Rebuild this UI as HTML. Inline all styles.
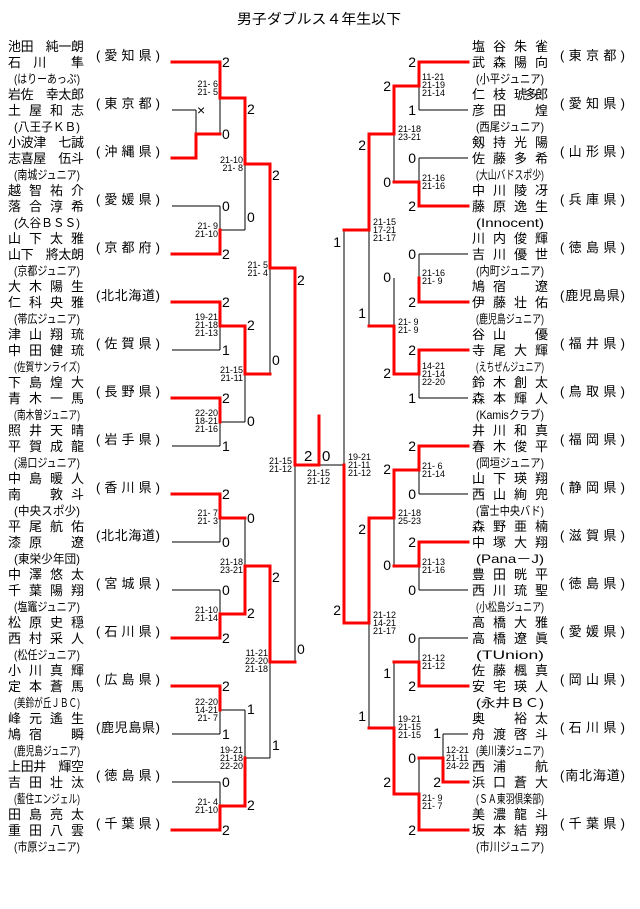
<!DOCTYPE html>
<html><head><meta charset="utf-8"><style>
html,body{margin:0;padding:0;background:#fff;}
svg{display:block;font-family:"Liberation Sans","Noto Sans CJK JP",sans-serif;}
.n{font-size:13px;fill:#000;}
.a{font-size:12px;fill:#000;}
.p{font-size:13px;fill:#000;}
.d{font-size:14px;fill:#000;}
.s{font-size:9px;fill:#000;}
.k{stroke:#000;stroke-width:1;fill:none;}
.r{stroke:#f00;stroke-width:3;fill:none;stroke-linecap:square;}
</style></head><body>
<svg width="640" height="909" viewBox="0 0 640 909" xmlns="http://www.w3.org/2000/svg">
<text x="237" y="24" font-size="14" textLength="164" lengthAdjust="spacingAndGlyphs">男子ダブルス４年生以下</text>

<!-- LEFT TEAMS -->
<g transform="translate(0,0)"><text class="n" x="8" y="51" textLength="76" lengthAdjust="spacing">池田　純一朗</text><text class="n" x="8" y="67" textLength="76" lengthAdjust="spacing">石　川　　隼</text><text class="a" x="14" y="83" textLength="66" lengthAdjust="spacingAndGlyphs">(はりーあっぷ)</text><text class="p" x="96" y="60" textLength="64" lengthAdjust="spacing">( 愛 知 県 )</text></g>
<g transform="translate(0,48)"><text class="n" x="8" y="51" textLength="76" lengthAdjust="spacing">岩佐　幸太郎</text><text class="n" x="8" y="67" textLength="76" lengthAdjust="spacing">土　屋　和　志</text><text class="a" x="14" y="83" textLength="66" lengthAdjust="spacingAndGlyphs">(八王子ＫＢ)</text><text class="p" x="96" y="60" textLength="64" lengthAdjust="spacing">( 東 京 都 )</text></g>
<g transform="translate(0,96)"><text class="n" x="8" y="51" textLength="76" lengthAdjust="spacing">小波津　七誠</text><text class="n" x="8" y="67" textLength="76" lengthAdjust="spacing">志喜屋　伍斗</text><text class="a" x="14" y="83" textLength="66" lengthAdjust="spacingAndGlyphs">(南城ジュニア)</text><text class="p" x="96" y="60" textLength="64" lengthAdjust="spacing">( 沖 縄 県 )</text></g>
<g transform="translate(0,144)"><text class="n" x="8" y="51" textLength="76" lengthAdjust="spacing">越　智　祐　介</text><text class="n" x="8" y="67" textLength="76" lengthAdjust="spacing">落　合　淳　希</text><text class="a" x="14" y="83" textLength="66" lengthAdjust="spacingAndGlyphs">(久谷ＢＳＳ)</text><text class="p" x="96" y="60" textLength="64" lengthAdjust="spacing">( 愛 媛 県 )</text></g>
<g transform="translate(0,192)"><text class="n" x="8" y="51" textLength="76" lengthAdjust="spacing">山　下　太　雅</text><text class="n" x="8" y="67" textLength="76" lengthAdjust="spacing">山下　將太朗</text><text class="a" x="14" y="83" textLength="66" lengthAdjust="spacingAndGlyphs">(京都ジュニア)</text><text class="p" x="96" y="60" textLength="64" lengthAdjust="spacing">( 京 都 府 )</text></g>
<g transform="translate(0,240)"><text class="n" x="8" y="51" textLength="76" lengthAdjust="spacing">大　木　陽　生</text><text class="n" x="8" y="67" textLength="76" lengthAdjust="spacing">仁　科　央　雅</text><text class="a" x="14" y="83" textLength="66" lengthAdjust="spacingAndGlyphs">(帯広ジュニア)</text><text class="p" x="96" y="60" textLength="64" lengthAdjust="spacing">(北北海道)</text></g>
<g transform="translate(0,288)"><text class="n" x="8" y="51" textLength="76" lengthAdjust="spacing">津　山　翔　琉</text><text class="n" x="8" y="67" textLength="76" lengthAdjust="spacing">中　田　健　琉</text><text class="a" x="14" y="83" textLength="66" lengthAdjust="spacingAndGlyphs">(佐賀サンライズ)</text><text class="p" x="96" y="60" textLength="64" lengthAdjust="spacing">( 佐 賀 県 )</text></g>
<g transform="translate(0,336)"><text class="n" x="8" y="51" textLength="76" lengthAdjust="spacing">下　島　煌　大</text><text class="n" x="8" y="67" textLength="76" lengthAdjust="spacing">青　木　一　馬</text><text class="a" x="14" y="83" textLength="66" lengthAdjust="spacingAndGlyphs">(南木曽ジュニア)</text><text class="p" x="96" y="60" textLength="64" lengthAdjust="spacing">( 長 野 県 )</text></g>
<g transform="translate(0,384)"><text class="n" x="8" y="51" textLength="76" lengthAdjust="spacing">照　井　天　晴</text><text class="n" x="8" y="67" textLength="76" lengthAdjust="spacing">平　賀　成　龍</text><text class="a" x="14" y="83" textLength="66" lengthAdjust="spacingAndGlyphs">(湯口ジュニア)</text><text class="p" x="96" y="60" textLength="64" lengthAdjust="spacing">( 岩 手 県 )</text></g>
<g transform="translate(0,432)"><text class="n" x="8" y="51" textLength="76" lengthAdjust="spacing">中　島　暖　人</text><text class="n" x="8" y="67" textLength="76" lengthAdjust="spacing">南　　　敦　斗</text><text class="a" x="14" y="83" textLength="66" lengthAdjust="spacingAndGlyphs">(中央スポ少)</text><text class="p" x="96" y="60" textLength="64" lengthAdjust="spacing">( 香 川 県 )</text></g>
<g transform="translate(0,480)"><text class="n" x="8" y="51" textLength="76" lengthAdjust="spacing">平　尾　航　佑</text><text class="n" x="8" y="67" textLength="76" lengthAdjust="spacing">漆　原　　　遼</text><text class="a" x="14" y="83" textLength="66" lengthAdjust="spacingAndGlyphs">(東栄少年団)</text><text class="p" x="96" y="60" textLength="64" lengthAdjust="spacing">(北北海道)</text></g>
<g transform="translate(0,528)"><text class="n" x="8" y="51" textLength="76" lengthAdjust="spacing">中　澤　悠　太</text><text class="n" x="8" y="67" textLength="76" lengthAdjust="spacing">千　葉　陽　翔</text><text class="a" x="14" y="83" textLength="66" lengthAdjust="spacingAndGlyphs">(塩竈ジュニア)</text><text class="p" x="96" y="60" textLength="64" lengthAdjust="spacing">( 宮 城 県 )</text></g>
<g transform="translate(0,576)"><text class="n" x="8" y="51" textLength="76" lengthAdjust="spacing">松　原　史　穏</text><text class="n" x="8" y="67" textLength="76" lengthAdjust="spacing">西　村　采　人</text><text class="a" x="14" y="83" textLength="66" lengthAdjust="spacingAndGlyphs">(松任ジュニア)</text><text class="p" x="96" y="60" textLength="64" lengthAdjust="spacing">( 石 川 県 )</text></g>
<g transform="translate(0,624)"><text class="n" x="8" y="51" textLength="76" lengthAdjust="spacing">小　川　真　輝</text><text class="n" x="8" y="67" textLength="76" lengthAdjust="spacing">定　本　蒼　馬</text><text class="a" x="14" y="83" textLength="66" lengthAdjust="spacingAndGlyphs">(美鈴が丘ＪＢＣ)</text><text class="p" x="96" y="60" textLength="64" lengthAdjust="spacing">( 広 島 県 )</text></g>
<g transform="translate(0,672)"><text class="n" x="8" y="51" textLength="76" lengthAdjust="spacing">峰　元　遙　生</text><text class="n" x="8" y="67" textLength="76" lengthAdjust="spacing">鳩　宿　　　瞬</text><text class="a" x="14" y="83" textLength="66" lengthAdjust="spacingAndGlyphs">(鹿児島ジュニア)</text><text class="p" x="96" y="60" textLength="64" lengthAdjust="spacing">(鹿児島県)</text></g>
<g transform="translate(0,720)"><text class="n" x="8" y="51" textLength="76" lengthAdjust="spacing">上田井　輝空</text><text class="n" x="8" y="67" textLength="76" lengthAdjust="spacing">吉　田　壮　汰</text><text class="a" x="14" y="83" textLength="66" lengthAdjust="spacingAndGlyphs">(藍住エンジェル)</text><text class="p" x="96" y="60" textLength="64" lengthAdjust="spacing">( 徳 島 県 )</text></g>
<g transform="translate(0,768)"><text class="n" x="8" y="51" textLength="76" lengthAdjust="spacing">田　島　亮　太</text><text class="n" x="8" y="67" textLength="76" lengthAdjust="spacing">重　田　八　雲</text><text class="a" x="14" y="83" textLength="66" lengthAdjust="spacingAndGlyphs">(市原ジュニア)</text><text class="p" x="96" y="60" textLength="64" lengthAdjust="spacing">( 千 葉 県 )</text></g>

<!-- RIGHT TEAMS -->
<g transform="translate(0,0)"><text class="n" x="472" y="51" textLength="76" lengthAdjust="spacing">塩　谷　朱　雀</text><text class="n" x="472" y="67" textLength="76" lengthAdjust="spacing">武　森　陽　向</text><text class="a" x="476" y="83" textLength="68" lengthAdjust="spacingAndGlyphs">(小平ジュニア)</text><text class="p" x="560" y="60" textLength="65" lengthAdjust="spacing">( 東 京 都 )</text></g>
<g transform="translate(0,48)"><text class="n" x="472" y="51" textLength="76" lengthAdjust="spacing">仁　枝　琥多郎</text><text class="n" x="472" y="67" textLength="76" lengthAdjust="spacing">彦　田　　　煌</text><text class="a" x="476" y="83" textLength="68" lengthAdjust="spacingAndGlyphs">(西尾ジュニア)</text><text class="p" x="560" y="60" textLength="65" lengthAdjust="spacing">( 愛 知 県 )</text></g>
<g transform="translate(0,96)"><text class="n" x="472" y="51" textLength="76" lengthAdjust="spacing">剱　持　光　陽</text><text class="n" x="472" y="67" textLength="76" lengthAdjust="spacing">佐　藤　多　希</text><text class="a" x="476" y="83" textLength="68" lengthAdjust="spacingAndGlyphs">(大山バドスポ少)</text><text class="p" x="560" y="60" textLength="65" lengthAdjust="spacing">( 山 形 県 )</text></g>
<g transform="translate(0,144)"><text class="n" x="472" y="51" textLength="76" lengthAdjust="spacing">中　川　陵　冴</text><text class="n" x="472" y="67" textLength="76" lengthAdjust="spacing">藤　原　逸　生</text><text class="a" x="476" y="83" textLength="68" lengthAdjust="spacingAndGlyphs">(Innocent)</text><text class="p" x="560" y="60" textLength="65" lengthAdjust="spacing">( 兵 庫 県 )</text></g>
<g transform="translate(0,192)"><text class="n" x="472" y="51" textLength="76" lengthAdjust="spacing">川　内　俊　輝</text><text class="n" x="472" y="67" textLength="76" lengthAdjust="spacing">吉　川　優　世</text><text class="a" x="476" y="83" textLength="68" lengthAdjust="spacingAndGlyphs">(内町ジュニア)</text><text class="p" x="560" y="60" textLength="65" lengthAdjust="spacing">( 徳 島 県 )</text></g>
<g transform="translate(0,240)"><text class="n" x="472" y="51" textLength="76" lengthAdjust="spacing">鳩　宿　　　遼</text><text class="n" x="472" y="67" textLength="76" lengthAdjust="spacing">伊　藤　壮　佑</text><text class="a" x="476" y="83" textLength="68" lengthAdjust="spacingAndGlyphs">(鹿児島ジュニア)</text><text class="p" x="560" y="60" textLength="65" lengthAdjust="spacing">(鹿児島県)</text></g>
<g transform="translate(0,288)"><text class="n" x="472" y="51" textLength="76" lengthAdjust="spacing">谷　山　　　優</text><text class="n" x="472" y="67" textLength="76" lengthAdjust="spacing">寺　尾　大　輝</text><text class="a" x="476" y="83" textLength="68" lengthAdjust="spacingAndGlyphs">(えちぜんジュニア)</text><text class="p" x="560" y="60" textLength="65" lengthAdjust="spacing">( 福 井 県 )</text></g>
<g transform="translate(0,336)"><text class="n" x="472" y="51" textLength="76" lengthAdjust="spacing">鈴　木　創　太</text><text class="n" x="472" y="67" textLength="76" lengthAdjust="spacing">森　本　輝　人</text><text class="a" x="476" y="83" textLength="68" lengthAdjust="spacingAndGlyphs">(Kamisクラブ)</text><text class="p" x="560" y="60" textLength="65" lengthAdjust="spacing">( 鳥 取 県 )</text></g>
<g transform="translate(0,384)"><text class="n" x="472" y="51" textLength="76" lengthAdjust="spacing">井　川　和　真</text><text class="n" x="472" y="67" textLength="76" lengthAdjust="spacing">春　木　俊　平</text><text class="a" x="476" y="83" textLength="68" lengthAdjust="spacingAndGlyphs">(岡垣ジュニア)</text><text class="p" x="560" y="60" textLength="65" lengthAdjust="spacing">( 福 岡 県 )</text></g>
<g transform="translate(0,432)"><text class="n" x="472" y="51" textLength="76" lengthAdjust="spacing">山　下　瑛　翔</text><text class="n" x="472" y="67" textLength="76" lengthAdjust="spacing">西　山　絢　兜</text><text class="a" x="476" y="83" textLength="68" lengthAdjust="spacingAndGlyphs">(富士中央バド)</text><text class="p" x="560" y="60" textLength="65" lengthAdjust="spacing">( 静 岡 県 )</text></g>
<g transform="translate(0,480)"><text class="n" x="472" y="51" textLength="76" lengthAdjust="spacing">森　野　亜　楠</text><text class="n" x="472" y="67" textLength="76" lengthAdjust="spacing">中　塚　大　翔</text><text class="a" x="476" y="83" textLength="68" lengthAdjust="spacingAndGlyphs">(Pana－J)</text><text class="p" x="560" y="60" textLength="65" lengthAdjust="spacing">( 滋 賀 県 )</text></g>
<g transform="translate(0,528)"><text class="n" x="472" y="51" textLength="76" lengthAdjust="spacing">豊　田　晄　平</text><text class="n" x="472" y="67" textLength="76" lengthAdjust="spacing">西　川　琉　聖</text><text class="a" x="476" y="83" textLength="68" lengthAdjust="spacingAndGlyphs">(小松島ジュニア)</text><text class="p" x="560" y="60" textLength="65" lengthAdjust="spacing">( 徳 島 県 )</text></g>
<g transform="translate(0,576)"><text class="n" x="472" y="51" textLength="76" lengthAdjust="spacing">高　橋　大　雅</text><text class="n" x="472" y="67" textLength="76" lengthAdjust="spacing">高　橋　遼　眞</text><text class="a" x="476" y="83" textLength="68" lengthAdjust="spacingAndGlyphs">(TUnion)</text><text class="p" x="560" y="60" textLength="65" lengthAdjust="spacing">( 愛 媛 県 )</text></g>
<g transform="translate(0,624)"><text class="n" x="472" y="51" textLength="76" lengthAdjust="spacing">佐　藤　楓　真</text><text class="n" x="472" y="67" textLength="76" lengthAdjust="spacing">安　宅　瑛　人</text><text class="a" x="476" y="83" textLength="68" lengthAdjust="spacingAndGlyphs">(永井ＢＣ)</text><text class="p" x="560" y="60" textLength="65" lengthAdjust="spacing">( 岡 山 県 )</text></g>
<g transform="translate(0,672)"><text class="n" x="472" y="51" textLength="76" lengthAdjust="spacing">奥　　　裕　太</text><text class="n" x="472" y="67" textLength="76" lengthAdjust="spacing">舟　渡　啓　斗</text><text class="a" x="476" y="83" textLength="68" lengthAdjust="spacingAndGlyphs">(美川湊ジュニア)</text><text class="p" x="560" y="60" textLength="65" lengthAdjust="spacing">( 石 川 県 )</text></g>
<g transform="translate(0,720)"><text class="n" x="472" y="51" textLength="76" lengthAdjust="spacing">西　浦　　　航</text><text class="n" x="472" y="67" textLength="76" lengthAdjust="spacing">浜　口　蒼　大</text><text class="a" x="476" y="83" textLength="68" lengthAdjust="spacingAndGlyphs">(ＳＡ東羽倶楽部)</text><text class="p" x="560" y="60" textLength="65" lengthAdjust="spacing">(南北海道)</text></g>
<g transform="translate(0,768)"><text class="n" x="472" y="51" textLength="76" lengthAdjust="spacing">美　濃　龍　斗</text><text class="n" x="472" y="67" textLength="76" lengthAdjust="spacing">坂　本　結　翔</text><text class="a" x="476" y="83" textLength="68" lengthAdjust="spacingAndGlyphs">(市川ジュニア)</text><text class="p" x="560" y="60" textLength="65" lengthAdjust="spacing">( 千 葉 県 )</text></g>

<!-- LEFT BLACK LINES -->
<path class="k" d="M172 62H220M172 110H196M172 158H196M196 110V158M220 62V134
M172 206H220M172 254H220M220 206V254
M172 302H220M172 350H220M220 302V350
M172 398H220M172 446H220M220 398V446
M172 494H220M172 542H220M220 494V542
M172 590H220M172 638H220M220 590V638
M172 686H220M172 734H220M220 686V734
M172 782H220M172 830H220M220 782V830
M245 98V230M220 230H245M245 326V422M220 422H245M245 518V614M245 710V806M220 710H245
M270 164V374M245 374H270M270 566V758M245 758H270
M295 268V662M270 662H295M295 465H344"/>
<!-- RIGHT BLACK LINES -->
<path class="k" d="M468 62H419M468 110H419M419 62V110
M468 158H419M468 206H419M419 158V206
M468 254H419M468 302H419M419 254V302
M468 350H419M468 398H419M419 350V398
M468 446H419M468 494H419M419 446V494
M468 542H419M468 590H419M419 542V590
M468 638H419M468 686H419M419 638V686
M468 734H443M468 782H443M443 734V782
M468 830H419M419 758V830
M394 86V182M394 278V374M394 470V566M394 662V794
M369 134V326M394 326H369M369 518V728
M344 230V623"/>

<!-- RED LINES LEFT -->
<path class="r" d="M172 62H220V98H245V164H270V268H295V465H319V416
M172 158H196V134H220
M172 254H220V230
M172 302H220V326H245V374H270
M172 398H220V422
M172 494H220V518H245
M172 638H220V614H245V566H270V662H295
M172 686H220V710
M172 830H220V806H245V758"/>
<!-- RED LINES RIGHT -->
<path class="r" d="M468 62H419V86H394V134H369V230H344
M468 206H419V182H394
M468 302H419V278
M468 350H419V374H394V326H369
M468 446H419V470H394V518H369V623H344V465
M468 542H419V566H394
M468 686H419V662H394
M468 782H443V758H419
M468 830H419V794H394V728H369"/>

<!-- DIGITS LEFT -->
<g class="d">
<text x="222" y="67">2</text><text x="222" y="139">0</text><text x="197" y="115">×</text>
<text x="222" y="211">0</text><text x="222" y="259">2</text>
<text x="222" y="307">2</text><text x="222" y="355">1</text>
<text x="222" y="403">2</text><text x="222" y="451">1</text>
<text x="222" y="499">2</text><text x="222" y="547">0</text>
<text x="222" y="595">0</text><text x="222" y="643">2</text>
<text x="222" y="691">2</text><text x="222" y="739">1</text>
<text x="222" y="787">0</text><text x="222" y="835">2</text>
<text x="247" y="114">2</text><text x="247" y="222">0</text>
<text x="247" y="330">2</text><text x="247" y="426">0</text>
<text x="247" y="523">0</text><text x="247" y="618">2</text>
<text x="247" y="714">1</text><text x="247" y="810">2</text>
<text x="272" y="180">2</text><text x="272" y="365">0</text>
<text x="272" y="582">2</text><text x="272" y="750">1</text>
<text x="297" y="285">2</text><text x="297" y="654">0</text>
<text x="304" y="461" font-size="15">2</text><text x="322" y="461" font-size="15">0</text>
</g>
<!-- DIGITS RIGHT -->
<g class="d" text-anchor="end">
<text x="416" y="67">2</text><text x="416" y="115">1</text>
<text x="416" y="163">0</text><text x="416" y="211">2</text>
<text x="416" y="259">0</text><text x="416" y="307">2</text>
<text x="416" y="355">2</text><text x="416" y="403">1</text>
<text x="416" y="451">2</text><text x="416" y="499">0</text>
<text x="416" y="547">2</text><text x="416" y="595">0</text>
<text x="416" y="643">0</text><text x="416" y="691">2</text>
<text x="416" y="763">0</text><text x="416" y="835">2</text>
<text x="441" y="738">1</text><text x="441" y="787">2</text>
<text x="391" y="91">2</text><text x="391" y="187">0</text>
<text x="391" y="282">0</text><text x="391" y="378">2</text>
<text x="391" y="474">2</text><text x="391" y="570">0</text>
<text x="391" y="678">1</text><text x="391" y="787">2</text>
<text x="366" y="150">2</text><text x="366" y="318">1</text>
<text x="366" y="534">2</text><text x="366" y="721">1</text>
<text x="341" y="247">1</text><text x="341" y="615">2</text>
</g>

<!-- SCORES LEFT -->
<g class="s" text-anchor="end">
<text x="218" y="87">21- 6</text><text x="218" y="95">21- 5</text>
<text x="218" y="229">21- 9</text><text x="218" y="237">21-10</text>
<text x="218" y="320">19-21</text><text x="218" y="328">21-18</text><text x="218" y="336">21-13</text>
<text x="218" y="416">22-20</text><text x="218" y="424">18-21</text><text x="218" y="432">21-16</text>
<text x="218" y="516">21- 7</text><text x="218" y="524">21- 3</text>
<text x="218" y="613">21-10</text><text x="218" y="621">21-14</text>
<text x="218" y="705">22-20</text><text x="218" y="713">14-21</text><text x="218" y="721">21- 7</text>
<text x="218" y="805">21- 4</text><text x="218" y="813">21-10</text>
<text x="243" y="163">21-10</text><text x="243" y="171">21- 8</text>
<text x="243" y="373">21-15</text><text x="243" y="381">21-11</text>
<text x="243" y="565">21-18</text><text x="243" y="573">23-21</text>
<text x="243" y="753">19-21</text><text x="243" y="761">21-18</text><text x="243" y="769">22-20</text>
<text x="268" y="268">21- 5</text><text x="268" y="276">21- 4</text>
<text x="268" y="656">11-21</text><text x="268" y="664">22-20</text><text x="268" y="672">21-18</text>
<text x="292" y="464">21-15</text><text x="292" y="472">21-12</text>
</g>
<!-- SCORES RIGHT -->
<g class="s">
<text x="422" y="80">11-21</text><text x="422" y="88">21-19</text><text x="422" y="96">21-14</text>
<text x="422" y="181">21-16</text><text x="422" y="189">21-16</text>
<text x="422" y="276">21-16</text><text x="422" y="284">21- 9</text>
<text x="422" y="369">14-21</text><text x="422" y="377">21-14</text><text x="422" y="385">22-20</text>
<text x="422" y="469">21- 6</text><text x="422" y="477">21-14</text>
<text x="422" y="565">21-13</text><text x="422" y="573">21-16</text>
<text x="422" y="661">21-12</text><text x="422" y="669">21-12</text>
<text x="422" y="801">21- 9</text><text x="422" y="809">21- 7</text>
<text x="446" y="753">12-21</text><text x="446" y="761">21-11</text><text x="446" y="769">24-22</text>
<text x="398" y="132">21-18</text><text x="398" y="140">23-21</text>
<text x="398" y="325">21- 9</text><text x="398" y="333">21- 9</text>
<text x="398" y="516">21-18</text><text x="398" y="524">25-23</text>
<text x="398" y="722">19-21</text><text x="398" y="730">21-15</text><text x="398" y="738">21-15</text>
<text x="373" y="225">21-15</text><text x="373" y="233">17-21</text><text x="373" y="241">21-17</text>
<text x="373" y="618">21-12</text><text x="373" y="626">14-21</text><text x="373" y="634">21-17</text>
<text x="348" y="460">19-21</text><text x="348" y="468">21-11</text><text x="348" y="476">21-12</text>
<text x="307" y="476">21-15</text><text x="307" y="484">21-12</text>
</g>
</svg>
</body></html>
